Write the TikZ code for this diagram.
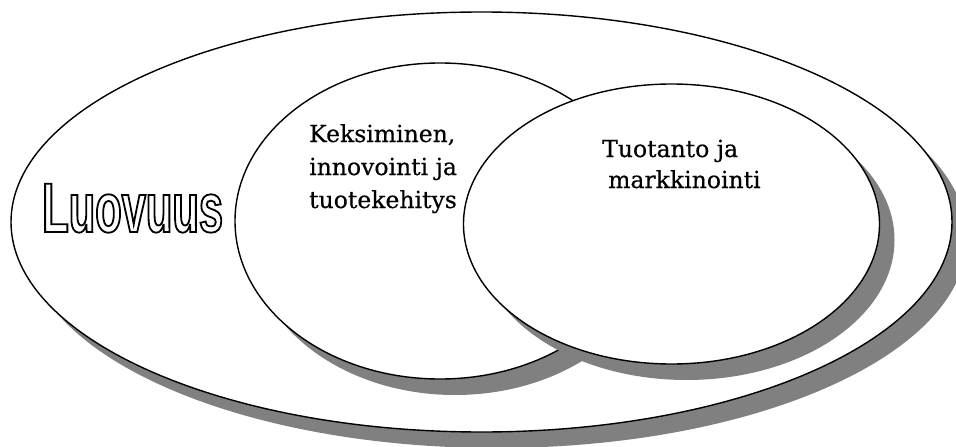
\documentclass[tikz,border=0pt]{standalone}
\usepackage{fontspec}
\usetikzlibrary{shapes.geometric,shadows}
\setmainfont{DejaVu Serif}[FakeBold=0.4]
\newfontfamily\luofont{Liberation Sans}[FakeStretch=0.62]
% hollow lettering: glyph outlines stroked, not filled
\newcommand{\hollowtext}[1]{\special{pdf:literal direct 1 Tr 1.8 w}#1\special{pdf:literal direct 0 Tr}}
\begin{document}
\begin{tikzpicture}[x=1pt,y=-1pt,
  oval/.style={ellipse, draw=black, line width=1.4pt, fill=white, inner sep=0pt,
    drop shadow={shadow xshift=15pt, shadow yshift=-16pt, fill=gray, opacity=1}},
  label text/.style={font=\fontsize{23.5}{28}\selectfont, align=left, inner sep=0pt, anchor=base west}]
  \useasboundingbox (0,0) rectangle (956,447);
  % outer field and the two overlapping activities
  \node[oval, minimum width=941pt, minimum height=420pt] (luovuus) at (481.5,222) {};
  \node[oval, minimum width=410pt, minimum height=316pt] (keksiminen) at (440,221) {};
  \node[oval, minimum width=416pt, minimum height=280pt] (tuotanto) at (671.5,224) {};
  % labels (anchored at the baseline of the last line)
  \node[inner sep=0pt, anchor=base west] (luovuustext) at (42,232)
    {\luofont\bfseries\fontsize{70}{70}\selectfont\hollowtext{Luovuus}};
  \node[label text] (kektext) at (309,208) {Keksiminen,\\[5pt]innovointi ja\\[5pt]tuotekehitys};
  \node[label text] (tuotext) at (602,188) {Tuotanto ja\\[3pt]\hspace*{6pt}markkinointi};
\end{tikzpicture}
\end{document}
